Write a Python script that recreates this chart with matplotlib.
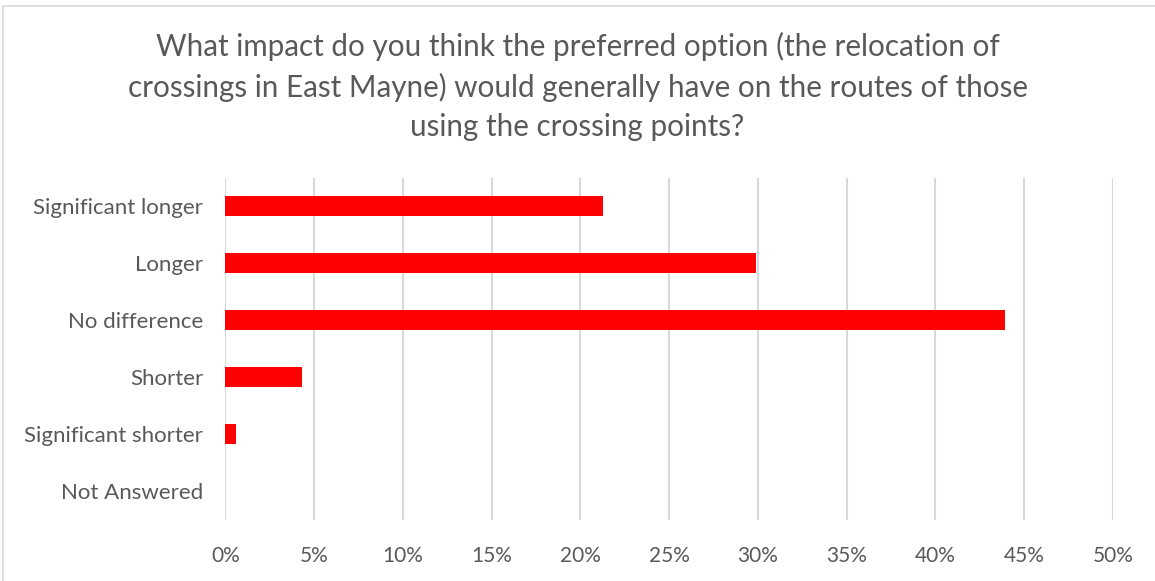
import matplotlib.pyplot as plt
import matplotlib.patches as mpatches
from matplotlib.ticker import FixedLocator

plt.rcParams['font.family'] = ['Lato', 'DejaVu Sans']

# survey answers, top to bottom
answers = ['Significant longer', 'Longer', 'No difference', 'Shorter',
           'Significant shorter', 'Not Answered']
share = [21.3, 29.9, 43.9, 4.3, 0.6, 0.0]
xticks = [0, 5, 10, 15, 20, 25, 30, 35, 40, 45, 50]

title = ('What impact do you think the preferred option (the relocation of\n'
         'crossings in East Mayne) would generally have on the routes of those\n'
         'using the crossing points?')

grey = '#595959'

fig = plt.figure(figsize=(11.55, 5.81), dpi=100)
ax = fig.add_axes([225.3 / 1155, 1 - 519.5 / 581, 887.5 / 1155, 342 / 581])

ypos = list(range(len(answers)))
ax.barh(ypos, share, height=0.35, color='#ff0000', zorder=3)
ax.set_ylim(len(answers) - 0.5, -0.5)
ax.set_xlim(0, 50)

ax.xaxis.set_major_locator(FixedLocator(xticks))
ax.set_xticklabels([f'{t}%' for t in xticks])
ax.set_yticks(ypos)
ax.set_yticklabels(answers)
ax.tick_params(axis='both', length=0, colors=grey)
ax.tick_params(axis='x', pad=19, labelsize=15)
ax.tick_params(axis='y', pad=16, labelsize=16)
ax.grid(axis='x', color='#d9d9d9', linewidth=1.5, zorder=0)
for s in ax.spines.values():
    s.set_visible(False)

fig.text(0.5, 1 - 86.5 / 581, title, ha='center', va='center', fontsize=21.3,
         color=grey, linespacing=1.48)

# chart frame
fig.patches.append(mpatches.Rectangle((3 / 1155, -0.05), 1.1, 1 - 6 / 581 + 0.05,
                                      transform=fig.transFigure, fill=False,
                                      edgecolor='#d9d9d9', linewidth=1.2))

fig.savefig('out.png', dpi=100)
